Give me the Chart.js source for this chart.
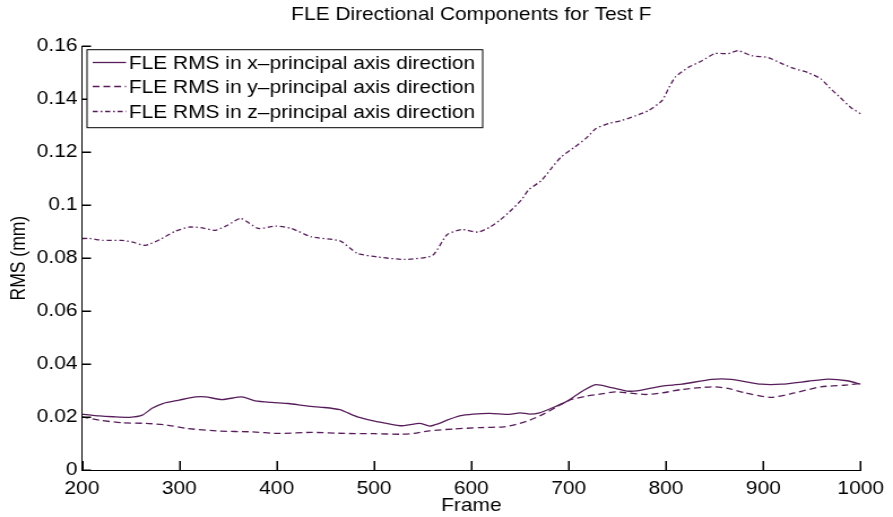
<!DOCTYPE html>
<html>
<head>
<meta charset="utf-8">
<script src="https://cdn.jsdelivr.net/npm/chart.js@4"></script>
<style>
  html, body { margin: 0; padding: 0; background: #fff; overflow: hidden; }
  /* the reference figure is stretched sideways, so the canvas is too */
  #fleChart { transform: scaleX(1.1304); transform-origin: 0 0; }
</style>
</head>
<body>
<canvas id="fleChart" width="790" height="517"></canvas>
<script>
const xTicks = [200, 300, 400, 500, 600, 700, 800, 900, 1000];
const yTicks = [0, 0.02, 0.04, 0.06, 0.08, 0.1, 0.12, 0.14, 0.16];

const xFrames = [200, 218, 232, 249, 262, 272, 283, 300, 317, 327, 344, 364, 378, 395, 412, 432, 449, 465, 473, 483, 504, 527, 547, 557, 567, 575, 588, 602, 619, 639, 650, 660, 670, 684, 697, 708, 716, 728, 745, 760, 770, 796, 816, 847, 867, 898, 919, 946, 966, 986, 1000];
const xRms = [0.0211, 0.0204, 0.0201, 0.0199, 0.0207, 0.0233, 0.0251, 0.0264, 0.0276, 0.0276, 0.0266, 0.0276, 0.0261, 0.0255, 0.0251, 0.0241, 0.0236, 0.0228, 0.0216, 0.0201, 0.0182, 0.0167, 0.0176, 0.0166, 0.0176, 0.0188, 0.0204, 0.0211, 0.0214, 0.0210, 0.0216, 0.0211, 0.0216, 0.0236, 0.0257, 0.0283, 0.0302, 0.0322, 0.0310, 0.0298, 0.0299, 0.0317, 0.0324, 0.0342, 0.0342, 0.0324, 0.0324, 0.0335, 0.0343, 0.0337, 0.0324];

const yFrames = [200, 218, 242, 266, 287, 307, 341, 374, 402, 436, 470, 500, 527, 541, 557, 582, 609, 633, 646, 660, 674, 688, 701, 718, 735, 748, 779, 796, 816, 847, 864, 881, 908, 932, 959, 983, 1000];
const yRms = [0.0201, 0.0188, 0.0178, 0.0176, 0.0170, 0.0157, 0.0147, 0.0144, 0.0138, 0.0142, 0.0138, 0.0137, 0.0135, 0.0138, 0.0148, 0.0155, 0.0160, 0.0163, 0.0172, 0.0188, 0.0211, 0.0239, 0.0264, 0.0279, 0.0288, 0.0295, 0.0285, 0.0291, 0.0304, 0.0314, 0.0308, 0.0291, 0.0274, 0.0291, 0.0314, 0.0320, 0.0327];

const zFrames = [200, 208, 221, 241, 252, 265, 280, 295, 310, 322, 337, 350, 363, 381, 399, 415, 436, 465, 483, 504, 532, 560, 575, 590, 607, 619, 629, 639, 651, 659, 672, 682, 692, 706, 718, 728, 741, 755, 769, 782, 796, 803, 810, 823, 837, 850, 864, 874, 888, 905, 919, 932, 946, 959, 969, 979, 990, 1000];
const zRms = [0.0874, 0.0874, 0.0867, 0.0867, 0.0860, 0.0848, 0.0870, 0.0900, 0.0917, 0.0915, 0.0905, 0.0925, 0.0950, 0.0912, 0.0921, 0.0912, 0.0880, 0.0865, 0.0818, 0.0804, 0.0795, 0.0810, 0.0888, 0.0908, 0.0898, 0.0917, 0.0942, 0.0974, 0.1018, 0.1058, 0.1093, 0.1138, 0.1181, 0.1219, 0.1253, 0.1289, 0.1308, 0.1320, 0.1338, 0.1357, 0.1395, 0.1444, 0.1485, 0.1520, 0.1545, 0.1572, 0.1572, 0.1583, 0.1564, 0.1557, 0.1534, 0.1515, 0.1500, 0.1477, 0.1440, 0.1406, 0.1368, 0.1345];

const seriesLabels = [
  'FLE RMS in x\u2013principal axis direction',
  'FLE RMS in y\u2013principal axis direction',
  'FLE RMS in z\u2013principal axis direction'
];

const LINE = '#561d5a';
const FONT = '"Liberation Sans", Arial, Helvetica, sans-serif';
const TXT = 18.5;

function toPoints(xs, ys) {
  return xs.map((x, i) => ({ x: x, y: ys[i] }));
}

// matlab look: ticks pointing inward and a framed legend in the top left corner
const matlabAxes = {
  id: 'matlabAxes',
  afterDraw(chart) {
    const ctx = chart.ctx;
    const area = chart.chartArea;
    const xs = chart.scales.x;
    const ys = chart.scales.y;
    ctx.save();
    ctx.setLineDash([]);
    ctx.fillStyle = '#000';
    xTicks.forEach(v => {
      const px = Math.round(xs.getPixelForValue(v));
      ctx.fillRect(px - 0.5, area.bottom - 9, 1.5, 9);
    });
    yTicks.forEach(v => {
      const py = Math.round(ys.getPixelForValue(v));
      ctx.fillRect(area.left, py - 0.5, 8, 1.5);
    });

    // legend
    ctx.strokeStyle = '#000';
    ctx.lineWidth = 1;
    const bx = area.left + 4.5, by = area.top + 3.5, bw = 350, bh = 78;
    ctx.fillStyle = '#fff';
    ctx.fillRect(bx, by, bw, bh);
    ctx.strokeRect(bx, by, bw, bh);
    ctx.font = TXT + 'px ' + FONT;
    ctx.textBaseline = 'middle';
    ctx.textAlign = 'left';
    chart.data.datasets.forEach((ds, i) => {
      const cy = Math.round(by + 12 + i * 24.5) + 0.5;
      ctx.save();
      ctx.strokeStyle = ds.borderColor;
      ctx.lineWidth = ds.borderWidth;
      ctx.setLineDash(ds.borderDash || []);
      ctx.beginPath();
      ctx.moveTo(bx + 5, cy);
      ctx.lineTo(bx + 34.5, cy);
      ctx.stroke();
      ctx.restore();
      ctx.fillStyle = '#000';
      ctx.fillText(ds.label, bx + 37, cy + 1);
    });
    ctx.restore();
  }
};

new Chart(document.getElementById('fleChart'), {
  type: 'line',
  data: {
    datasets: [
      { label: seriesLabels[0], data: toPoints(xFrames, xRms), borderColor: LINE, borderWidth: 1.3, pointRadius: 0, tension: 0.2, borderDash: [] },
      { label: seriesLabels[1], data: toPoints(yFrames, yRms), borderColor: LINE, borderWidth: 1.3, pointRadius: 0, tension: 0.2, borderDash: [6, 3.5] },
      { label: seriesLabels[2], data: toPoints(zFrames, zRms), borderColor: LINE, borderWidth: 1.3, pointRadius: 0, tension: 0.2, borderDash: [4.5, 2.5, 1.5, 2.5] }
    ]
  },
  options: {
    responsive: false,
    animation: false,
    layout: { padding: { left: 0, right: 23, top: 0, bottom: 0 } },
    plugins: {
      title: {
        display: true,
        fullSize: false,
        text: 'FLE Directional Components for Test F',
        color: '#000',
        font: { family: FONT, size: TXT, weight: 'normal' },
        padding: { top: 4, bottom: 20 }
      },
      legend: { display: false },
      tooltip: { enabled: false }
    },
    scales: {
      x: {
        type: 'linear',
        min: 200,
        max: 1000,
        grid: { display: false, drawTicks: false },
        border: { display: true, color: '#000', width: 1 },
        afterBuildTicks(scale) { scale.ticks = xTicks.map(v => ({ value: v })); },
        ticks: { color: '#000', font: { family: FONT, size: TXT }, padding: 8, maxRotation: 0, callback: v => String(v) },
        title: { display: true, text: 'Frame', color: '#000', font: { family: FONT, size: TXT }, padding: { top: 0, bottom: 0 } },
        afterFit(scale) { scale.height = 47; }
      },
      y: {
        min: 0,
        max: 0.16,
        grid: { display: false, drawTicks: false },
        border: { display: true, color: '#000', width: 1 },
        afterBuildTicks(scale) { scale.ticks = yTicks.map(v => ({ value: v })); },
        ticks: { color: '#000', font: { family: FONT, size: TXT }, padding: 4, callback: v => String(+v.toFixed(2)) },
        title: { display: true, text: 'RMS (mm)', color: '#000', font: { family: FONT, size: 17.5 }, padding: { top: 7, bottom: 0 } },
        afterFit(scale) { scale.width = 72.5; }
      }
    }
  },
  plugins: [matlabAxes]
});
</script>
</body>
</html>
